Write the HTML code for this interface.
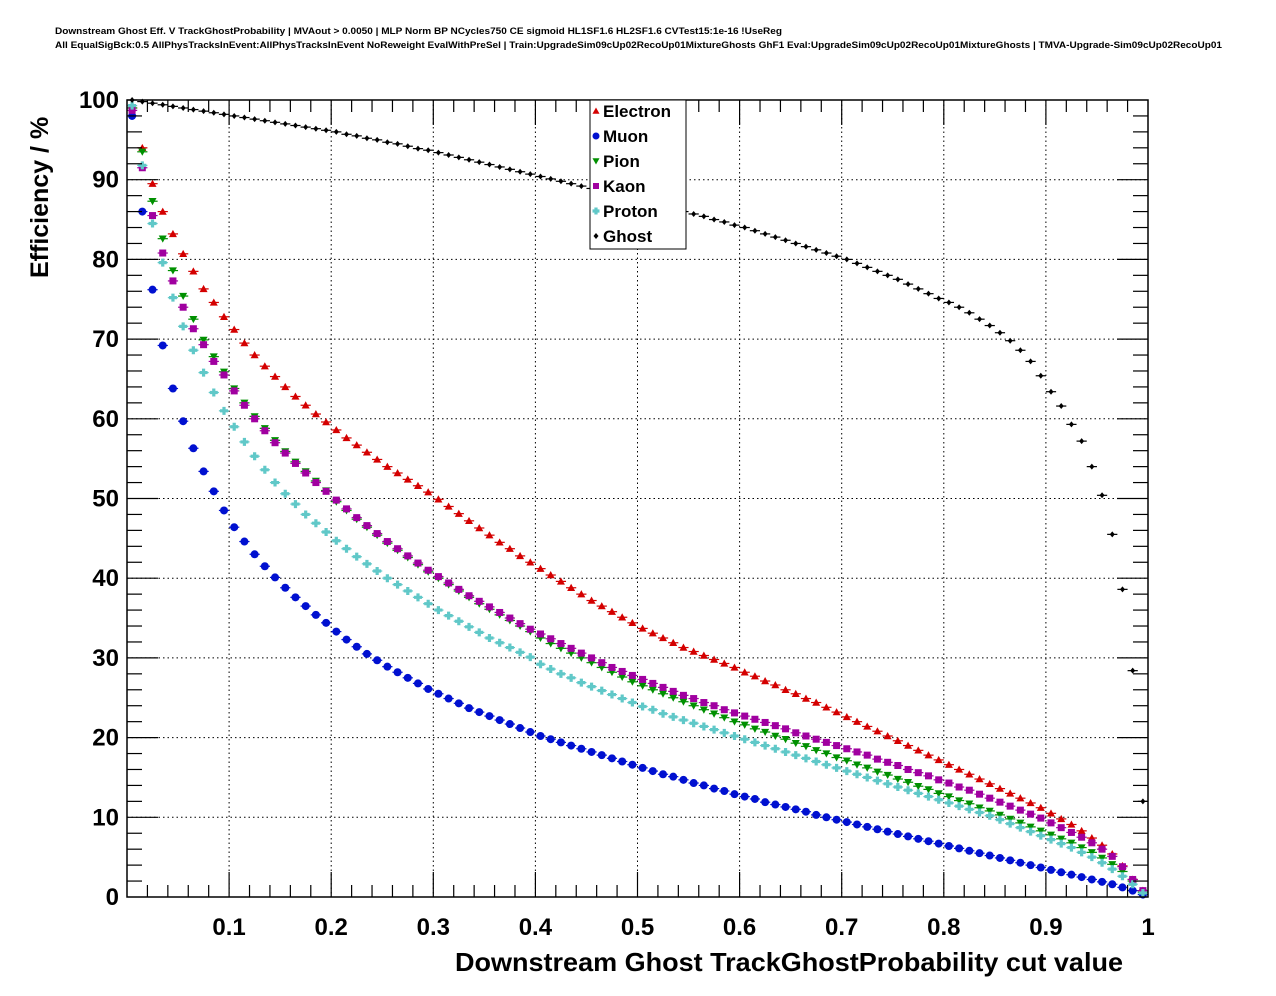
<!DOCTYPE html>
<html><head><meta charset="utf-8">
<style>
html,body{margin:0;padding:0;background:#fff;}
svg{display:block;font-family:"Liberation Sans",Arial,sans-serif;}
</style></head>
<body>
<svg id="chart" width="1276" height="996" viewBox="0 0 1276 996">
<rect width="1276" height="996" fill="#fff"/>
<text x="55" y="34" font-size="9" font-weight="bold" textLength="727" lengthAdjust="spacingAndGlyphs">Downstream Ghost Eff. V TrackGhostProbability | MVAout &gt; 0.0050 | MLP Norm BP NCycles750 CE sigmoid HL1SF1.6 HL2SF1.6 CVTest15:1e-16 !UseReg</text>
<text x="55" y="48" font-size="9" font-weight="bold" textLength="1167" lengthAdjust="spacingAndGlyphs">All EqualSigBck:0.5 AllPhysTracksInEvent:AllPhysTracksInEvent NoReweight EvalWithPreSel | Train:UpgradeSim09cUp02RecoUp01MixtureGhosts GhF1 Eval:UpgradeSim09cUp02RecoUp01MixtureGhosts | TMVA-Upgrade-Sim09cUp02RecoUp01</text>
<g id="grid"></g>
<g id="marks"></g>
<rect x="127" y="100" width="1021" height="797" fill="none" stroke="#000" stroke-width="1.5"/>
<g id="axes"></g>
<text x="455" y="971" font-size="26" font-weight="bold" textLength="668" lengthAdjust="spacingAndGlyphs">Downstream Ghost TrackGhostProbability cut value</text>
<text transform="translate(48,278) rotate(-90)" font-size="25" font-weight="bold">Efficiency / %</text>
<g id="legend"></g>
</svg>
<script>
const binCenters = [];
for (let i = 0; i < 100; i++) binCenters.push(0.005 + 0.01 * i);
const xTicks = ["0.1","0.2","0.3","0.4","0.5","0.6","0.7","0.8","0.9","1"];
const yTicks = ["0","10","20","30","40","50","60","70","80","90","100"];
const seriesNames = ["Electron","Muon","Pion","Kaon","Proton","Ghost"];
const electron = [99,94,89.5,86,83.2,80.7,78.5,76.3,74.6,72.8,
71.2,69.5,68,66.6,65.3,64,62.8,61.7,60.6,59.6,
58.6,57.6,56.7,55.8,54.9,54,53.2,52.4,51.6,50.8,
49.9,49,48.1,47.2,46.3,45.4,44.5,43.7,42.8,42,
41.2,40.4,39.6,38.8,38,37.2,36.5,35.8,35.1,34.4,
33.7,33.1,32.5,31.9,31.3,30.8,30.3,29.8,29.3,28.8,
28.2,27.7,27.1,26.6,26,25.5,24.9,24.4,23.8,23.2,
22.6,22,21.4,20.8,20.2,19.6,19,18.4,17.8,17.2,
16.6,16,15.4,14.8,14.2,13.6,13,12.4,11.8,11.2,
10.5,9.8,9.1,8.3,7.4,6.5,5.4,3.9,2.2,0.8];
const muon = [98,86,76.2,69.2,63.8,59.7,56.3,53.4,50.9,48.5,
46.4,44.6,43,41.5,40.1,38.8,37.6,36.5,35.4,34.4,
33.3,32.3,31.4,30.5,29.7,28.9,28.2,27.5,26.8,26.1,
25.5,24.9,24.3,23.7,23.2,22.7,22.2,21.7,21.2,20.7,
20.2,19.8,19.4,19,18.6,18.2,17.8,17.4,17,16.6,
16.2,15.8,15.4,15.1,14.7,14.3,14,13.6,13.3,12.9,
12.6,12.3,11.9,11.6,11.3,11,10.7,10.3,10,9.7,
9.4,9.1,8.8,8.5,8.2,7.9,7.6,7.3,7,6.7,
6.4,6.1,5.8,5.5,5.2,4.9,4.6,4.3,4,3.7,
3.4,3.1,2.8,2.5,2.2,1.9,1.6,1.2,0.8,0.3];
const pion = [99,93.5,87.3,82.6,78.6,75.4,72.5,69.9,67.8,65.9,
63.8,62,60.3,58.8,57.3,55.9,54.6,53.4,52.2,51,
49.6,48.5,47.4,46.4,45.4,44.4,43.5,42.6,41.7,40.8,
40,39.2,38.4,37.6,36.8,36.1,35.4,34.7,34,33.3,
32.5,31.8,31.2,30.6,30,29.4,28.8,28.2,27.6,27,
26.5,26,25.5,25,24.5,24,23.5,23,22.5,22,
21.6,21.1,20.7,20.2,19.8,19.3,18.9,18.4,18,17.5,
17.1,16.6,16.2,15.7,15.3,14.8,14.4,13.9,13.5,13,
12.6,12.1,11.7,11.2,10.8,10.3,9.8,9.3,8.8,8.3,
7.8,7.3,6.8,6.2,5.6,4.9,4.1,3.2,2,0.6];
const kaon = [98.7,91.5,85.5,80.8,77.3,74,71.3,69.3,67.2,65.5,
63.5,61.7,60,58.5,57,55.7,54.4,53.2,52,50.9,
49.8,48.7,47.6,46.6,45.6,44.6,43.7,42.8,41.9,41,
40.2,39.4,38.6,37.8,37.1,36.4,35.7,35,34.3,33.6,
33,32.4,31.8,31.2,30.6,30,29.4,28.8,28.3,27.8,
27.3,26.8,26.3,25.8,25.3,24.9,24.4,24,23.5,23.1,
22.7,22.3,21.9,21.5,21.1,20.6,20.2,19.8,19.4,19,
18.6,18.2,17.8,17.3,16.9,16.5,16,15.6,15.2,14.7,
14.3,13.8,13.4,12.9,12.4,11.9,11.4,10.9,10.4,9.9,
9.3,8.7,8.1,7.5,6.8,6,5.1,3.8,2.2,0.8];
const proton = [99.3,91.8,84.5,79.6,75.2,71.6,68.6,65.8,63.3,61,
59,57.1,55.3,53.6,52,50.6,49.3,48,46.9,45.8,
44.7,43.7,42.7,41.8,40.9,40,39.2,38.4,37.6,36.8,
36,35.3,34.6,33.9,33.2,32.5,31.9,31.3,30.7,30.1,
29.2,28.6,28,27.5,26.9,26.4,25.9,25.4,24.9,24.4,
23.9,23.5,23,22.6,22.2,21.8,21.4,21,20.6,20.2,
19.8,19.4,19,18.6,18.2,17.8,17.4,17,16.6,16.2,
15.8,15.4,15,14.6,14.2,13.8,13.4,13,12.6,12.2,
11.8,11.4,11,10.6,10.2,9.7,9.2,8.7,8.2,7.7,
7.2,6.7,6.2,5.6,5,4.3,3.5,2.6,1.6,0.5];
const ghost = [100,99.8,99.6,99.4,99.2,99,98.8,98.6,98.4,98.2,
98,97.8,97.6,97.4,97.2,97,96.8,96.6,96.4,96.2,
96,95.7,95.5,95.2,95,94.7,94.5,94.2,93.9,93.7,
93.4,93.1,92.8,92.5,92.2,91.9,91.6,91.3,91,90.7,
90.4,90.1,89.8,89.5,89.2,88.9,88.6,88.2,87.9,87.6,
87.3,87,86.7,86.4,86,85.7,85.4,85,84.7,84.3,
84,83.6,83.2,82.8,82.4,82,81.6,81.2,80.8,80.4,
80,79.5,79,78.5,78,77.5,76.9,76.3,75.7,75.1,
74.6,74,73.3,72.5,71.7,70.8,69.8,68.6,67.2,65.4,
63.4,61.6,59.3,57.2,54,50.4,45.5,38.6,28.4,12];

const X0 = 127, X1 = 1148, Y0 = 897, Y1 = 100;
const xs = v => X0 + v * (X1 - X0);
const ys = v => Y0 - v / 100 * (Y0 - Y1);
const NS = "http://www.w3.org/2000/svg";
function mk(tag, attrs, parent) {
  const e = document.createElementNS(NS, tag);
  for (const k in attrs) e.setAttribute(k, attrs[k]);
  parent.appendChild(e);
  return e;
}
const grid = document.getElementById("grid");
const axes = document.getElementById("axes");
const marks = document.getElementById("marks");
const legend = document.getElementById("legend");

xTicks.forEach(t => {
  const v = parseFloat(t), x = xs(v);
  if (v < 1) {
    const g = mk("line", {x1:x, x2:x, y1:Y1, y2:Y0, stroke:"#000", "stroke-width":1, "stroke-dasharray":"1.5,3"}, grid);
    
    
  }
  const lab = mk("text", {x:x, y:935, "font-size":24, "font-weight":"bold", "text-anchor":"middle"}, axes);
  lab.textContent = t;
  
  
});
for (let i = 1; i < 50; i++) {
  const x = xs(i * 0.02);
  const major = i % 5 === 0;
  const len = major ? 25 : 12;
  mk("line", {x1:x, x2:x, y1:Y0, y2:Y0 - len, stroke:"#000", "stroke-width":1.2}, axes);
  mk("line", {x1:x, x2:x, y1:Y1, y2:Y1 + len, stroke:"#000", "stroke-width":1.2}, axes);
}
yTicks.forEach(t => {
  const v = parseFloat(t), y = ys(v);
  if (v > 0 && v < 100) {
    const g = mk("line", {x1:X0, x2:X1, y1:y, y2:y, stroke:"#000", "stroke-width":1, "stroke-dasharray":"1.5,3"}, grid);
    
    
  }
  const lab = mk("text", {x:119, y:y + 8, "font-size":24, "font-weight":"bold", "text-anchor":"end"}, axes);
  lab.textContent = t;
  
  
});
for (let i = 1; i < 50; i++) {
  const y = ys(i * 2);
  const len = i % 5 === 0 ? 31 : 15;
  mk("line", {x1:X0, x2:X0 + len, y1:y, y2:y, stroke:"#000", "stroke-width":1.2}, axes);
  mk("line", {x1:X1, x2:X1 - len, y1:y, y2:y, stroke:"#000", "stroke-width":1.2}, axes);
}

const colors = ["#d40000","#0010d0","#009000","#a000a0","#60c8c8","#000000"];
const shapes = ["tri","circ","tridown","sq","cross","diam"];
const data = [electron, muon, pion, kaon, proton, ghost];
function marker(shape, x, y, c, parent, s) {
  s = s || 4;
  if (shape === "tri") return mk("polygon", {points:`${x},${y-s} ${x-s},${y+s*0.8} ${x+s},${y+s*0.8}`, fill:c}, parent);
  if (shape === "tridown") return mk("polygon", {points:`${x},${y+s} ${x-s},${y-s*0.8} ${x+s},${y-s*0.8}`, fill:c}, parent);
  if (shape === "circ") return mk("circle", {cx:x, cy:y, r:s, fill:c}, parent);
  if (shape === "sq") return mk("rect", {x:x-s+0.5, y:y-s+0.5, width:2*s-1, height:2*s-1, fill:c}, parent);
  if (shape === "cross") return mk("path", {d:`M${x-s},${y-1.6}h${s-1.6}v-${s-1.6}h3.2v${s-1.6}h${s-1.6}v3.2h-${s-1.6}v${s-1.6}h-3.2v-${s-1.6}h-${s-1.6}z`, fill:c}, parent);
  return mk("polygon", {points:`${x},${y-3} ${x-2.5},${y} ${x},${y+3} ${x+2.5},${y}`, fill:c}, parent);
}
data.forEach((arr, si) => {
  const g = mk("g", {}, marks);
  
  
  arr.forEach((v, i) => {
    const x = xs(binCenters[i]), y = ys(v);
    mk("line", {x1:xs(binCenters[i] - 0.005), x2:xs(binCenters[i] + 0.005), y1:y, y2:y, stroke:colors[si], "stroke-width":1.2}, g);
    const m = marker(shapes[si], x, y, colors[si], g, si === 5 ? 3 : 4);
    
    
  });
});

mk("rect", {x:590, y:100, width:96, height:149, fill:"#fff", stroke:"#000", "stroke-width":1}, legend);
seriesNames.forEach((n, i) => {
  const y = 111 + i * 25;
  const m = marker(shapes[i], 596, y, colors[i], legend, i === 5 ? 3 : 3.5);
  
  
  const t = mk("text", {x:603, y:y + 6, "font-size":17, "font-weight":"bold"}, legend);
  t.textContent = n;
  
  
});
</script>
</body></html>
